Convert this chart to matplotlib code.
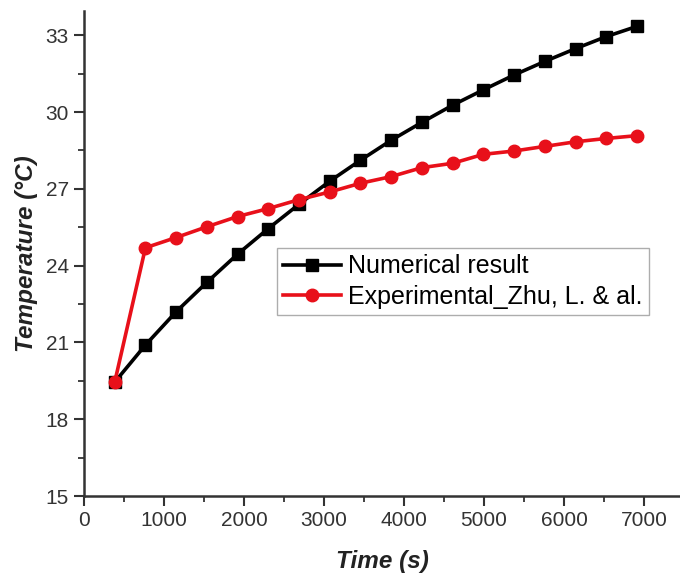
import matplotlib
matplotlib.use("Agg")
import matplotlib.pyplot as plt
from matplotlib.ticker import MultipleLocator

plt.rcParams['font.family'] = ['Liberation Sans', 'DejaVu Sans']

# Time stamps (s)
time_s = [384, 768, 1152, 1536, 1920, 2304, 2688, 3072, 3456, 3840,
          4224, 4608, 4992, 5376, 5760, 6144, 6528, 6912]

# Simulated temperature (°C)
numerical = [19.45, 20.9, 22.2, 23.35, 24.45, 25.45, 26.4, 27.3, 28.12, 28.9,
             29.6, 30.27, 30.87, 31.45, 31.98, 32.48, 32.95, 33.35]

# Measured temperature (°C)
experimental = [19.45, 24.7, 25.1, 25.52, 25.92, 26.23, 26.58, 26.88, 27.22, 27.48,
                27.83, 28.0, 28.35, 28.48, 28.66, 28.84, 28.97, 29.08]

fig = plt.figure(figsize=(6.8, 5.73), dpi=100)
ax = fig.add_axes([84/680, 77/573, 596/680, 485/573])

ax.plot(time_s, numerical, color='black', lw=2.6, marker='s', ms=8,
        label='Numerical result', zorder=3)
ax.plot(time_s, experimental, color='#e8101a', lw=2.6, marker='o', ms=9,
        label='Experimental_Zhu, L. & al.', zorder=3)

ax.set_xlim(0, 7450)
ax.set_ylim(15, 33.95)
ax.xaxis.set_major_locator(MultipleLocator(1000))
ax.xaxis.set_minor_locator(MultipleLocator(500))
ax.yaxis.set_major_locator(MultipleLocator(3))
ax.yaxis.set_minor_locator(MultipleLocator(1.5))

for side in ('top', 'right'):
    ax.spines[side].set_visible(False)
for side in ('left', 'bottom'):
    ax.spines[side].set_linewidth(1.8)
    ax.spines[side].set_color('#333333')

ax.tick_params(which='major', direction='out', length=7, width=1.5,
               labelsize=15, colors='#333333', labelcolor='#333333', pad=4)
ax.tick_params(which='minor', direction='out', length=4, width=1.3,
               colors='#333333')

ax.set_xlabel('Time (s)', fontsize=17.5, fontweight='bold', fontstyle='italic',
              color='#222222', labelpad=14)
ax.set_ylabel('Temperature (°C)', fontsize=17.5, fontweight='bold', fontstyle='italic',
              color='#222222', labelpad=5)

leg = ax.legend(loc='upper left', bbox_to_anchor=(0.324, 0.511), fontsize=18,
                frameon=True, fancybox=False, edgecolor='#999999',
                handlelength=2.3, borderpad=0.25, labelspacing=0.25,
                handletextpad=0.3, borderaxespad=0)
leg.get_frame().set_linewidth(1.0)

fig.savefig('out.png', dpi=100)
